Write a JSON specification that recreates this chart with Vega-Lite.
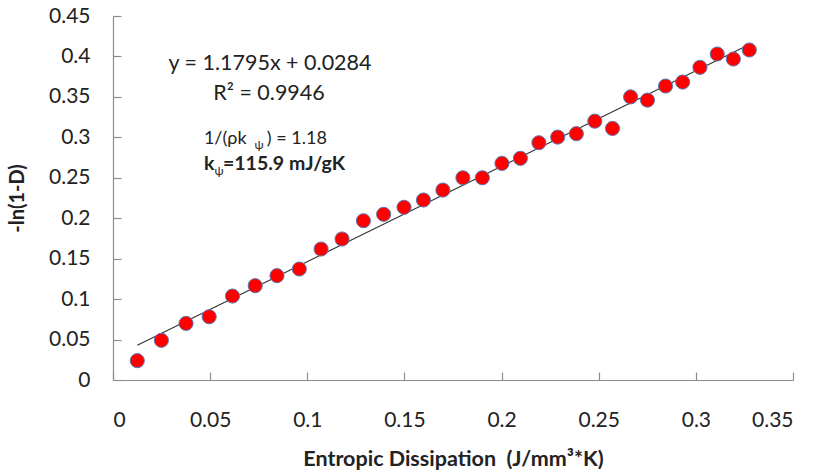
{
  "$schema": "https://vega.github.io/schema/vega-lite/v6.json",
  "width": 680,
  "height": 364,
  "autosize": "none",
  "padding": {"left": 113, "top": 16, "right": 24, "bottom": 94},
  "background": "white",
  "config": {
    "view": {"stroke": null},
    "font": "Lato",
    "axis": {
      "grid": false,
      "domainColor": "#8c8c8c",
      "tickColor": "#8c8c8c",
      "domainWidth": 1.2,
      "tickWidth": 1.2,
      "tickSize": -8,
      "labelFont": "Lato",
      "labelFontSize": 21,
      "labelColor": "#222222",
      "titleFont": "Lato",
      "titleFontWeight": "bold",
      "titleColor": "#222222"
    }
  },
  "datasets": {
    "points": [
      {"d": 0.0125, "v": 0.0239},
      {"d": 0.0249, "v": 0.0490},
      {"d": 0.0376, "v": 0.0700},
      {"d": 0.0495, "v": 0.0782},
      {"d": 0.0615, "v": 0.1038},
      {"d": 0.0732, "v": 0.1166},
      {"d": 0.0844, "v": 0.1290},
      {"d": 0.0959, "v": 0.1372},
      {"d": 0.1071, "v": 0.1619},
      {"d": 0.1179, "v": 0.1743},
      {"d": 0.1289, "v": 0.1969},
      {"d": 0.1393, "v": 0.2048},
      {"d": 0.1498, "v": 0.2135},
      {"d": 0.1598, "v": 0.2225},
      {"d": 0.1698, "v": 0.2348},
      {"d": 0.1801, "v": 0.2500},
      {"d": 0.1901, "v": 0.2500},
      {"d": 0.2002, "v": 0.2678},
      {"d": 0.2097, "v": 0.2740},
      {"d": 0.2192, "v": 0.2933},
      {"d": 0.2289, "v": 0.3003},
      {"d": 0.2385, "v": 0.3045},
      {"d": 0.2480, "v": 0.3200},
      {"d": 0.2571, "v": 0.3110},
      {"d": 0.2664, "v": 0.3500},
      {"d": 0.2751, "v": 0.3460},
      {"d": 0.2844, "v": 0.3634},
      {"d": 0.2932, "v": 0.3683},
      {"d": 0.3021, "v": 0.3865},
      {"d": 0.3110, "v": 0.4030},
      {"d": 0.3193, "v": 0.3968},
      {"d": 0.3275, "v": 0.4080}
    ],
    "trend": [
      {"d": 0.0125, "v": 0.0431},
      {"d": 0.3275, "v": 0.4147}
    ],
    "centered": [
      {"d": 0.0808, "v": 0.3833, "t": "y = 1.1795x + 0.0284"},
      {"d": 0.0803, "v": 0.3462, "t": "R² = 0.9946"}
    ],
    "leftNormal": [
      {"d": 0.0468, "v": 0.2918, "t": "1/(ρk"},
      {"d": 0.0792, "v": 0.2918, "t": ") = 1.18"}
    ],
    "subs": [
      {"d": 0.0728, "v": 0.2856, "t": "ψ"},
      {"d": 0.0522, "v": 0.2534, "t": "ψ"}
    ],
    "leftBold": [
      {"d": 0.0468, "v": 0.2596, "t": "k"},
      {"d": 0.0566, "v": 0.2596, "t": "=115.9 mJ/gK"}
    ]
  },
  "layer": [
    {
      "data": {"name": "trend"},
      "mark": {"type": "line", "color": "#333333", "strokeWidth": 1.1},
      "encoding": {
        "x": {
          "field": "d", "type": "quantitative",
          "scale": {"domain": [0, 0.35], "nice": false, "zero": true},
          "axis": {
            "values": [0, 0.05, 0.1, 0.15, 0.2, 0.25, 0.3, 0.35],
            "format": ".2~f",
            "labelPadding": 37,
            "title": "Entropic Dissipation\u00a0 (J/mm³*K)",
            "titleFontSize": 21.5,
            "titlePadding": 18
          }
        },
        "y": {
          "field": "v", "type": "quantitative",
          "scale": {"domain": [0, 0.45], "nice": false},
          "axis": {
            "values": [0, 0.05, 0.1, 0.15, 0.2, 0.25, 0.3, 0.35, 0.4, 0.45],
            "format": ".2~f",
            "labelPadding": 31,
            "title": "-ln(1-D)",
            "titleFontSize": 20,
            "titlePadding": 21
          }
        }
      }
    },
    {
      "data": {"name": "points"},
      "mark": {"type": "circle", "color": "#ff0000", "opacity": 1, "stroke": "#5a78b5", "strokeWidth": 1, "size": 200},
      "encoding": {
        "x": {"field": "d", "type": "quantitative"},
        "y": {"field": "v", "type": "quantitative"}
      }
    },
    {
      "data": {"name": "centered"},
      "mark": {"type": "text", "font": "Lato", "fontSize": 21.5, "color": "#222222", "align": "center", "baseline": "alphabetic"},
      "encoding": {
        "x": {"field": "d", "type": "quantitative"},
        "y": {"field": "v", "type": "quantitative"},
        "text": {"field": "t"}
      }
    },
    {
      "data": {"name": "leftNormal"},
      "mark": {"type": "text", "font": "Lato", "fontSize": 18, "color": "#222222", "align": "left", "baseline": "alphabetic"},
      "encoding": {
        "x": {"field": "d", "type": "quantitative"},
        "y": {"field": "v", "type": "quantitative"},
        "text": {"field": "t"}
      }
    },
    {
      "data": {"name": "subs"},
      "mark": {"type": "text", "font": "Lato", "fontSize": 12, "color": "#222222", "align": "left", "baseline": "alphabetic"},
      "encoding": {
        "x": {"field": "d", "type": "quantitative"},
        "y": {"field": "v", "type": "quantitative"},
        "text": {"field": "t"}
      }
    },
    {
      "data": {"name": "leftBold"},
      "mark": {"type": "text", "font": "Lato", "fontSize": 19.5, "fontWeight": "bold", "color": "#222222", "align": "left", "baseline": "alphabetic"},
      "encoding": {
        "x": {"field": "d", "type": "quantitative"},
        "y": {"field": "v", "type": "quantitative"},
        "text": {"field": "t"}
      }
    }
  ]
}
